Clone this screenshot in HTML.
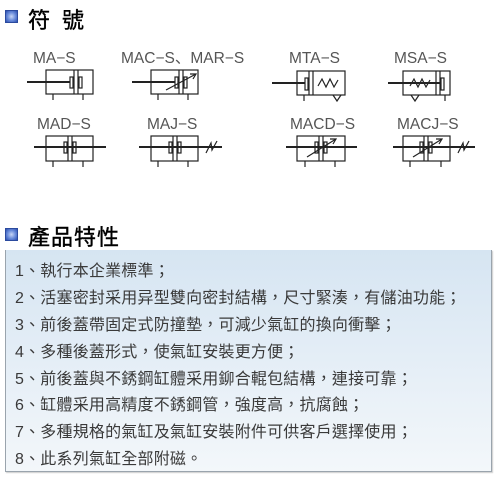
<!DOCTYPE html>
<html><head><meta charset="utf-8"><style>
html,body{margin:0;padding:0;background:#fff;}
body{width:497px;height:481px;position:relative;overflow:hidden;font-family:"Liberation Sans","Noto Sans CJK TC",sans-serif;}
.ic{position:absolute;width:13px;height:13px;background:radial-gradient(circle at 50% 50%,#c8d6f5 0%,#6d8fdc 50%,#2c4fb0 100%);border:1px solid #2b4a9e;box-sizing:border-box;}
.h{position:absolute;font-size:22px;color:#000;letter-spacing:1px;-webkit-text-stroke:0.4px #000;}
.panel{position:absolute;left:5px;top:250px;width:487px;height:222px;border:1px solid #9aa4ad;border-top:none;box-sizing:border-box;background:linear-gradient(#d6e5f2 0%,#e3edf6 45%,#f3f7fa 100%);box-shadow:1px 1px 1px #ccc;}
.ln{position:absolute;left:15px;font-size:16px;color:#3a3a3a;white-space:nowrap;letter-spacing:0.2px;}
</style></head><body>
<div class="ic" style="left:5px;top:10px"></div>
<div class="h" style="left:28px;top:3px;letter-spacing:12px">符號</div>
<svg style="position:absolute;left:0;top:0" width="497" height="200" font-family="Liberation Sans" font-size="15.5" fill="#333">
<g fill="#555">
<text x="33" y="63">MA−S</text>
<text x="121" y="63">MAC−S、MAR−S</text>
<text x="289" y="63">MTA−S</text>
<text x="394" y="63">MSA−S</text>
<text x="37" y="129">MAD−S</text>
<text x="147" y="129">MAJ−S</text>
<text x="290" y="129">MACD−S</text>
<text x="397" y="129">MACJ−S</text>
</g>
<g stroke="#222" stroke-width="1.2" fill="none">
<rect x="46" y="70" width="47" height="24"/>
<line x1="27" y1="82" x2="70" y2="82" stroke-width="2"/>
<rect x="70" y="77" width="3" height="11"/><line x1="74" y1="70" x2="74" y2="94"/><line x1="78" y1="70" x2="78" y2="94"/><rect x="79" y="77" width="3" height="11"/>
<line x1="53" y1="94" x2="53" y2="100"/><line x1="83" y1="94" x2="83" y2="100"/>
<rect x="151" y="70" width="47" height="24"/>
<line x1="132" y1="82" x2="175" y2="82" stroke-width="2"/>
<rect x="175" y="77" width="3" height="11"/><line x1="179" y1="70" x2="179" y2="94"/><line x1="183" y1="70" x2="183" y2="94"/><rect x="184" y="77" width="3" height="11"/>
<line x1="166" y1="90" x2="196" y2="74"/><path d="M190 74 L196 74 L193 79"/>
<line x1="158" y1="94" x2="158" y2="100"/><line x1="188" y1="94" x2="188" y2="100"/>
<rect x="297" y="71" width="48" height="24"/>
<line x1="272" y1="83" x2="305" y2="83" stroke-width="2"/>
<rect x="305" y="78" width="3" height="12"/><line x1="309" y1="71" x2="309" y2="95"/><line x1="313" y1="71" x2="313" y2="95"/>
<path d="M318 86 L322 79 L326 87 L330 79 L334 87 L338 80"/>
<path d="M333 95 L337 101 L341 95"/>
<line x1="304" y1="95" x2="304" y2="101"/>
<rect x="403" y="71" width="47" height="24"/>
<line x1="388" y1="83" x2="440" y2="83" stroke-width="2"/>
<path d="M410 86 L414 79 L418 87 L422 79 L426 87 L430 80"/>
<line x1="436" y1="71" x2="436" y2="95"/><line x1="440" y1="71" x2="440" y2="95"/><rect x="441" y="78" width="3" height="12"/>
<path d="M411 95 L415 101 L419 95"/>
<line x1="445" y1="95" x2="445" y2="101"/>
<rect x="46" y="136" width="47" height="25"/>
<line x1="34" y1="147" x2="106" y2="147" stroke-width="2"/>
<rect x="64" y="142" width="3" height="11"/><line x1="68" y1="136" x2="68" y2="161"/><line x1="72" y1="136" x2="72" y2="161"/><rect x="73" y="142" width="3" height="11"/>
<line x1="53" y1="161" x2="53" y2="167"/><line x1="83" y1="161" x2="83" y2="167"/>
<rect x="151" y="136" width="47" height="25"/>
<line x1="139" y1="147" x2="222" y2="147" stroke-width="2"/>
<rect x="169" y="142" width="3" height="11"/><line x1="173" y1="136" x2="173" y2="161"/><line x1="177" y1="136" x2="177" y2="161"/><rect x="178" y="142" width="3" height="11"/>
<path d="M206 153 L211 143 L212 150 L217 141"/>
<line x1="158" y1="161" x2="158" y2="167"/><line x1="188" y1="161" x2="188" y2="167"/>
<rect x="297" y="136" width="48" height="25"/>
<line x1="286" y1="147" x2="357" y2="147" stroke-width="2"/>
<rect x="315" y="142" width="3" height="11"/><line x1="319" y1="136" x2="319" y2="161"/><line x1="323" y1="136" x2="323" y2="161"/><rect x="324" y="142" width="3" height="11"/>
<line x1="307" y1="157" x2="336" y2="139"/><path d="M330 139 L336 139 L333 144"/>
<line x1="305" y1="161" x2="305" y2="167"/><line x1="335" y1="161" x2="335" y2="167"/>
<rect x="403" y="136" width="47" height="25"/>
<line x1="393" y1="147" x2="475" y2="147" stroke-width="2"/>
<rect x="420" y="142" width="3" height="11"/><line x1="424" y1="136" x2="424" y2="161"/><line x1="428" y1="136" x2="428" y2="161"/><rect x="429" y="142" width="3" height="11"/>
<line x1="413" y1="157" x2="442" y2="139"/><path d="M436 139 L442 139 L439 144"/>
<path d="M458 153 L463 143 L464 150 L469 141"/>
<line x1="410" y1="161" x2="410" y2="167"/><line x1="441" y1="161" x2="441" y2="167"/>
</g>
</svg>
<div class="ic" style="left:5px;top:228px"></div>
<div class="h" style="left:28px;top:220px">產品特性</div>
<div class="panel"></div>
<div class="ln" style="top:257px">1、執行本企業標準；</div>
<div class="ln" style="top:284px">2、活塞密封采用异型雙向密封結構，尺寸緊湊，有儲油功能；</div>
<div class="ln" style="top:311px">3、前後蓋帶固定式防撞墊，可減少氣缸的換向衝擊；</div>
<div class="ln" style="top:338px">4、多種後蓋形式，使氣缸安裝更方便；</div>
<div class="ln" style="top:365px">5、前後蓋與不銹鋼缸體采用鉚合輥包結構，連接可靠；</div>
<div class="ln" style="top:391px">6、缸體采用高精度不銹鋼管，強度高，抗腐蝕；</div>
<div class="ln" style="top:418px">7、多種規格的氣缸及氣缸安裝附件可供客戶選擇使用；</div>
<div class="ln" style="top:445px">8、此系列氣缸全部附磁。</div>
</body></html>
